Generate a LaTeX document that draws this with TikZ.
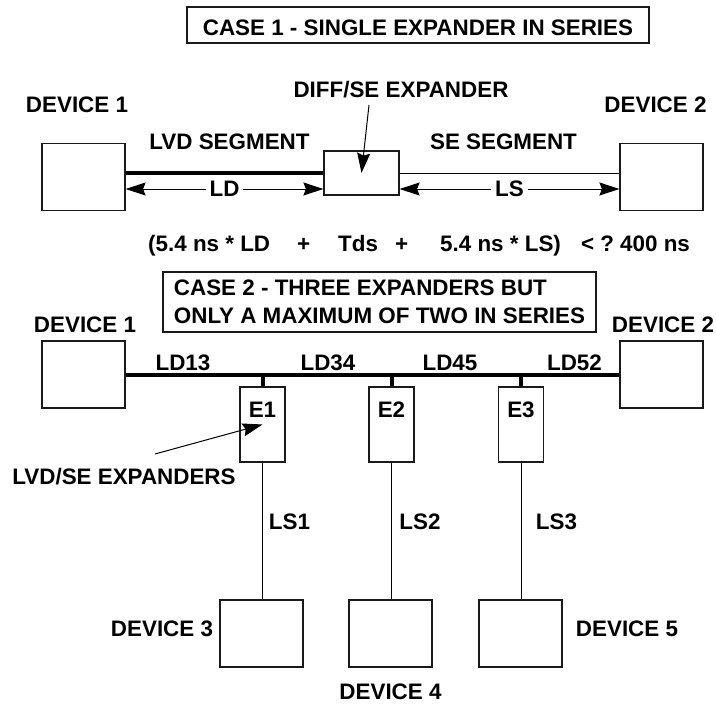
\documentclass[tikz,border=0pt]{standalone}
\usepackage{fontspec}
\setmainfont{Liberation Sans}
\usepackage{xcolor}
\usepackage{tikz}
\usetikzlibrary{arrows.meta, positioning, calc}
\definecolor{ink}{HTML}{1A1A1A}
\tikzset{
  lbl/.style={font=\fontsize{22.4}{27.5}\selectfont\bfseries, inner sep=0pt},
  devbox/.style={draw=ink, line width=1.2pt, minimum width=83pt, minimum height=67pt, inner sep=0pt},
  expbox/.style={draw=ink, line width=1.2pt, minimum width=45pt, minimum height=75pt, inner sep=0pt},
  casebox/.style={lbl, draw=ink, line width=1.2pt},
  bus/.style={line width=4pt},
  wire/.style={line width=1pt},
  tip/.style={-{Stealth[length=20pt, width=13pt, inset=2.5pt]}, line width=1pt},
  dimline/.style={{Stealth[length=20pt, width=13pt, inset=2.5pt]}-{Stealth[length=20pt, width=13pt, inset=2.5pt]}, line width=1pt},
}

\begin{document}
\begin{tikzpicture}[x=1pt,y=-1pt]
\useasboundingbox (0,0) rectangle (716,704);
% case 1
\node[casebox, minimum width=462pt, minimum height=36pt, text height=22pt] (case1) at (418,25) {CASE 1 - SINGLE EXPANDER IN SERIES};
\node[devbox] (d1a) at (83.5,177) {};
\node[devbox] (d2a) at (661.5,177) {};
\node[draw=ink, line width=1.2pt, minimum width=75pt, minimum height=44pt] (diff) at (361.5,173) {};
\node[lbl] (d1alab) at (77,105) {DEVICE 1};
\node[lbl] (d2alab) at (655.5,105) {DEVICE 2};
\node[lbl] (difflab) at (401,89.5) {DIFF/SE EXPANDER};
\node[lbl] (lvdseg) at (229.5,142) {LVD SEGMENT};
\node[lbl] (seseg) at (503.5,142) {SE SEGMENT};
\draw[bus] (diff.west -| d1a.east) -- (diff.west);
\draw[wire] (diff.east) -- (diff.east -| d2a.west);
\coordinate (dimy) at (0,189);
\draw[dimline] (d1a.east |- dimy) -- node[lbl, fill=white, inner xsep=4pt] (ld) {LD} (diff.west |- dimy);
\draw[dimline] (diff.east |- dimy) -- node[lbl, fill=white, inner xsep=4pt] (ls) {LS} (d2a.west |- dimy);
\coordinate (difftail) at (369,105);
\draw[tip] (difftail) -- (diff.center);
% timing budget
\node[lbl, anchor=base west] (f1) at (148,251) {(5.4 ns * LD};
\node[lbl, anchor=base west] (f2) at (297,251) {+};
\node[lbl, anchor=base west] (f3) at (338,251) {Tds};
\node[lbl, anchor=base west] (f4) at (395,251) {+};
\node[lbl, anchor=base west] (f5) at (440,251) {5.4 ns * LS)};
\node[lbl, anchor=base west] (f6) at (581,251) {< ?};
\node[lbl, anchor=base west] (f7) at (620,251) {400 ns};
% case 2
\node[casebox, align=left, minimum width=433pt, minimum height=60pt] (case2) at (379.5,302) {CASE 2 - THREE EXPANDERS BUT\\ONLY A MAXIMUM OF TWO IN SERIES};
\node[devbox] (d1b) at (83.5,374.5) {};
\node[devbox] (d2b) at (661.5,374.5) {};
\node[lbl] (d1blab) at (85,325) {DEVICE 1};
\node[lbl] (d2blab) at (663,325) {DEVICE 2};
\node[expbox] (e1) at (262.5,424.5) {};
\node[expbox] (e2) at (391.5,424.5) {};
\node[expbox] (e3) at (521,424.5) {};
\node[lbl, below=15pt of e1.north] (e1lab) {E1};
\node[lbl, below=15pt of e2.north] (e2lab) {E2};
\node[lbl, below=15pt of e3.north] (e3lab) {E3};
\draw[bus] (d1b.east) -- (d2b.west);
\draw[bus] (e1.north) -- (e1.north |- d1b.east);
\draw[bus] (e2.north) -- (e2.north |- d1b.east);
\draw[bus] (e3.north) -- (e3.north |- d1b.east);
\node[lbl] (ld13) at (183,362.5) {LD13};
\node[lbl] (ld34) at (328,362.5) {LD34};
\node[lbl] (ld45) at (450,362.5) {LD45};
\node[lbl] (ld52) at (574.5,362.5) {LD52};
\node[devbox] (d3) at (261.5,633.5) {};
\node[devbox] (d4) at (390.5,633.5) {};
\node[devbox] (d5) at (520.5,633.5) {};
\draw[wire] (e1.south) -- (e1.south |- d3.north);
\draw[wire] (e2.south) -- (e2.south |- d4.north);
\draw[wire] (e3.south) -- (e3.south |- d5.north);
\node[lbl] (ls1) at (289.5,522) {LS1};
\node[lbl] (ls2) at (420,522) {LS2};
\node[lbl] (ls3) at (556.5,522) {LS3};
\node[lbl] (d3lab) at (162,629) {DEVICE 3};
\node[lbl] (d4lab) at (390.5,691.5) {DEVICE 4};
\node[lbl] (d5lab) at (627,629) {DEVICE 5};
\node[lbl] (explab) at (124,477) {LVD/SE EXPANDERS};
\coordinate (exptail) at (155,454);
\draw[tip] (exptail) -- (e1.center);
\end{tikzpicture}
\end{document}
